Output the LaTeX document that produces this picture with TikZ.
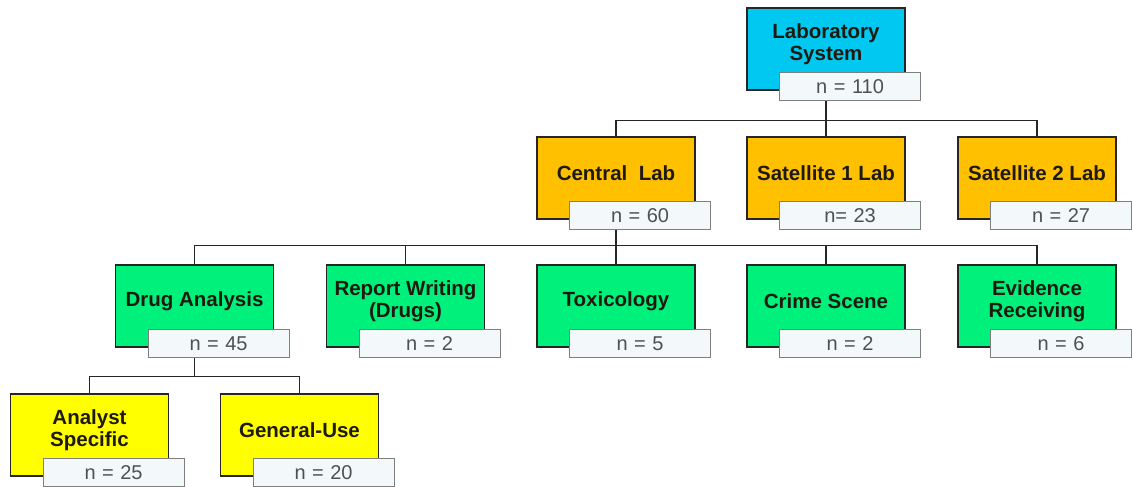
\documentclass[tikz,border=0pt]{standalone}
\usepackage{fontspec}
\setmainfont{Liberation Sans}
\usetikzlibrary{backgrounds}
\definecolor{cyanbox}{HTML}{00C8F0}
\definecolor{orangebox}{HTML}{FFC000}
\definecolor{greenbox}{HTML}{00F07C}
\definecolor{yellowbox}{HTML}{FFFF00}
\definecolor{nfill}{HTML}{F3F8FB}
\definecolor{nborder}{HTML}{7F7F7F}
\definecolor{ntext}{HTML}{505050}
\definecolor{ltext}{HTML}{1E1A10}
\newcommand{\numfont}{\fontsize{20}{22}\selectfont\spaceskip=6.5pt plus 1pt\relax}
\tikzset{
  unitbox/.style={draw=black!85, line width=1.1pt, minimum width=158pt, minimum height=82pt, inner sep=0pt},
  lbl/.style={font=\fontsize{20.5}{22}\selectfont\bfseries, text=ltext, align=center, yshift=5pt},
  nbox/.style={draw=nborder, line width=1.1pt, fill=nfill, minimum width=141pt, minimum height=28pt, inner sep=0pt, font=\numfont, text=ntext, text height=13.5pt, text depth=0pt},
  conn/.style={draw=black!85, line width=1.1pt}
}
\newcommand{\unit}[6]{%
  \node[unitbox, fill=#4, label={[lbl]center:{#5}}] (#1) at (#2,#3) {};
  \node[nbox] (#1n) at ([xshift=-55.5pt,yshift=4pt]#1.south east) {#6};
}
\begin{document}
\begin{tikzpicture}[x=1pt,y=-1pt]
\useasboundingbox (0,0) rectangle (1132,487);
\unit{ls}{826}{49}{cyanbox}{Laboratory\\System}{n = 110}
\unit{cl}{616}{178}{orangebox}{Central~~Lab}{n = 60}
\unit{sa}{826}{178}{orangebox}{Satellite 1 Lab}{n= 23}
\unit{sb}{1037}{178}{orangebox}{Satellite 2 Lab}{n = 27}
\unit{da}{194.5}{306}{greenbox}{Drug Analysis}{n = 45}
\unit{rw}{405.5}{306}{greenbox}{Report Writing\\(Drugs)}{n = 2}
\unit{tx}{616}{306}{greenbox}{Toxicology}{n = 5}
\unit{cs}{826}{306}{greenbox}{Crime Scene}{n = 2}
\unit{er}{1037}{306}{greenbox}{Evidence\\Receiving}{n = 6}
\unit{as}{89.5}{435}{yellowbox}{Analyst\\Specific}{n = 25}
\unit{gu}{299.5}{435}{yellowbox}{General-Use}{n = 20}
\begin{scope}[on background layer]
\draw[conn] (ls.south) -- ++(0,30) -| (cl.north);
\draw[conn] (ls.south) -- ++(0,30) -| (sa.north);
\draw[conn] (ls.south) -- ++(0,30) -| (sb.north);
\foreach \t in {da,rw,tx,cs,er}
  \draw[conn] (cl.south) -- ++(0,26) -| (\t.north);
\foreach \t in {as,gu}
  \draw[conn] (da.south) -- ++(0,29) -| (\t.north);
\end{scope}
\end{tikzpicture}
\end{document}
